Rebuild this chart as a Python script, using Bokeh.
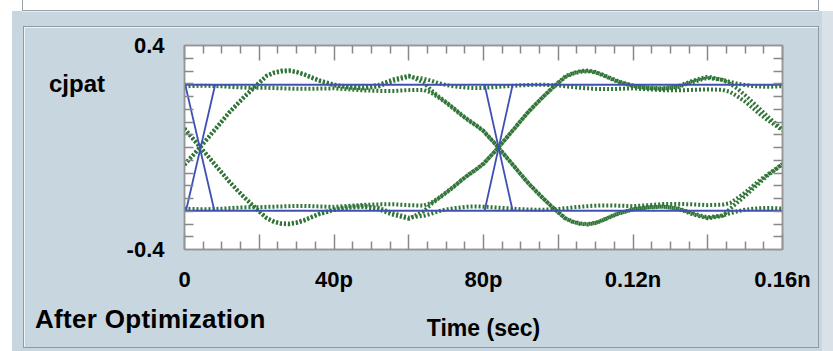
from bokeh.plotting import figure
from bokeh.models import (Range1d, LinearAxis, FixedTicker, Div, CustomLabelingPolicy)
from bokeh.embed import file_html
from bokeh.resources import INLINE

# ---------------- data (time in ps, value in V) ----------------
time_ps = [0, 2, 4, 6, 8, 10, 12, 14, 16, 18, 20, 22, 24, 26, 28, 30, 32, 34, 36,
           40, 44, 48, 52, 56, 60, 64,
           66, 68, 70, 72, 74, 76, 78, 80, 82, 84, 86, 88, 90, 92, 94, 96, 98, 100,
           102, 104, 106, 108, 110, 112, 114, 116,
           120, 124, 128, 132, 136, 140, 144,
           146, 148, 150, 152, 154, 156, 158, 160]

trace_rise_hold = [-0.068, -0.036, -0.003, 0.031, 0.066, 0.101, 0.137, 0.167, 0.197, 0.225, 0.252, 0.280, 0.292, 0.298, 0.300, 0.295, 0.286, 0.273, 0.261,
                   0.244, 0.235, 0.232, 0.240, 0.261, 0.278, 0.270,
                   0.262, 0.252, 0.245, 0.240, 0.237, 0.234, 0.233, 0.234, 0.236, 0.238, 0.240, 0.242, 0.244, 0.245, 0.246, 0.246, 0.245, 0.243, 0.240, 0.237, 0.234, 0.232, 0.230, 0.229, 0.229, 0.230,
                   0.232, 0.228, 0.225, 0.224, 0.226, 0.228, 0.226,
                   0.218, 0.200, 0.180, 0.155, 0.130, 0.108, 0.088, 0.067]

trace_rise_fall = [-0.066, -0.034, 0.000, 0.034, 0.069, 0.104, 0.139, 0.170, 0.200, 0.228, 0.256, 0.282, 0.295, 0.302, 0.303, 0.297, 0.288, 0.276, 0.264,
                   0.247, 0.238, 0.236, 0.246, 0.268, 0.282, 0.255,
                   0.225, 0.200, 0.178, 0.155, 0.130, 0.108, 0.088, 0.065, 0.033, 0.000, -0.035, -0.070, -0.105, -0.140, -0.170, -0.200, -0.228, -0.255, -0.280, -0.292, -0.300, -0.302, -0.296, -0.285, -0.272, -0.260,
                   -0.243, -0.235, -0.232, -0.240, -0.262, -0.278, -0.268,
                   -0.240, -0.215, -0.190, -0.163, -0.137, -0.110, -0.088, -0.066]

trace_fall_rise = [0.073, 0.038, 0.003, -0.030, -0.066, -0.100, -0.135, -0.166, -0.196, -0.225, -0.252, -0.278, -0.293, -0.300, -0.301, -0.296, -0.287, -0.274, -0.262,
                   -0.245, -0.236, -0.233, -0.243, -0.265, -0.280, -0.250,
                   -0.222, -0.200, -0.178, -0.155, -0.130, -0.106, -0.086, -0.063, -0.032, 0.001, 0.035, 0.070, 0.105, 0.140, 0.170, 0.200, 0.228, 0.255, 0.280, 0.292, 0.300, 0.302, 0.296, 0.285, 0.272, 0.260,
                   0.243, 0.235, 0.232, 0.240, 0.262, 0.278, 0.265,
                   0.250, 0.230, 0.205, 0.178, 0.150, 0.122, 0.096, 0.070]

trace_fall_hold = [0.075, 0.040, 0.005, -0.028, -0.063, -0.098, -0.133, -0.165, -0.195, -0.222, -0.250, -0.276, -0.290, -0.297, -0.298, -0.293, -0.284, -0.272, -0.260,
                   -0.243, -0.233, -0.229, -0.237, -0.258, -0.275, -0.268,
                   -0.260, -0.250, -0.243, -0.238, -0.235, -0.232, -0.231, -0.232, -0.234, -0.236, -0.238, -0.240, -0.242, -0.243, -0.244, -0.244, -0.243, -0.241, -0.238, -0.235, -0.232, -0.230, -0.228, -0.227, -0.227, -0.228,
                   -0.230, -0.226, -0.222, -0.221, -0.223, -0.226, -0.224,
                   -0.218, -0.198, -0.177, -0.152, -0.127, -0.106, -0.086, -0.064]

trace_high_fall = [0.240, 0.241, 0.242, 0.242, 0.241, 0.240, 0.238, 0.236, 0.235, 0.234, 0.234, 0.234, 0.233, 0.232, 0.231, 0.230, 0.230, 0.230, 0.231,
                   0.232, 0.228, 0.224, 0.222, 0.222, 0.225, 0.226,
                   0.215, 0.196, 0.175, 0.152, 0.128, 0.106, 0.086, 0.064, 0.032, -0.001, -0.036, -0.071, -0.106, -0.140, -0.171, -0.200, -0.228, -0.254, -0.278, -0.291, -0.298, -0.300, -0.295, -0.284, -0.271, -0.259,
                   -0.242, -0.234, -0.231, -0.238, -0.258, -0.274, -0.266,
                   -0.258, -0.250, -0.244, -0.240, -0.238, -0.237, -0.238, -0.240]

trace_low_rise = [-0.240, -0.241, -0.242, -0.242, -0.241, -0.240, -0.238, -0.236, -0.235, -0.234, -0.234, -0.233, -0.232, -0.231, -0.230, -0.229, -0.229, -0.230, -0.231,
                  -0.233, -0.229, -0.225, -0.223, -0.223, -0.226, -0.228,
                  -0.217, -0.198, -0.176, -0.153, -0.129, -0.107, -0.087, -0.064, -0.032, 0.000, 0.035, 0.070, 0.105, 0.139, 0.170, 0.199, 0.227, 0.253, 0.277, 0.290, 0.297, 0.299, 0.294, 0.283, 0.270, 0.258,
                  0.241, 0.233, 0.230, 0.237, 0.257, 0.273, 0.265,
                  0.257, 0.250, 0.245, 0.241, 0.239, 0.238, 0.239, 0.241]

# ideal (blue) eye
ideal_level_t = [0, 160]
ideal_high = [0.246, 0.246]
ideal_low = [-0.248, -0.248]
ideal_edges_t = [[0.2, 8.0], [0.4, 8.2], [80.3, 87.8], [80.3, 87.8]]
ideal_edges_v = [[0.246, -0.248], [-0.248, 0.246], [0.246, -0.248], [-0.248, 0.246]]

# axes
x_major_ticks = [0, 20, 40, 60, 80, 100, 120, 140, 160]
x_minor_ticks = [5, 10, 15, 25, 30, 35, 45, 50, 55, 65, 70, 75, 85, 90, 95,
                 105, 110, 115, 125, 130, 135, 145, 150, 155]
x_tick_labels = {0: "0", 40: "40p", 80: "80p", 120: "0.12n", 160: "0.16n"}
y_major_ticks = [-0.4, 0.4]
y_minor_ticks = [-0.35, -0.3, -0.25, -0.2, -0.15, -0.1, -0.05, 0.0,
                 0.05, 0.1, 0.15, 0.2, 0.25, 0.3, 0.35]
y_tick_labels = {-0.4: "-0.4", 0.4: "0.4"}
signal_name = "cjpat"
panel_caption = "After Optimization"
x_title = "Time (sec)"

# ---------------- styling ----------------
PANEL = "#c8d6df"
GREEN = "#317538"
BLUE = "#3f50b4"
FRAME = "#959595"
TICK = "#888888"
EDGE = "#8f9aa2"
FONT = "Liberation Sans"

p = figure(width=833, height=351, x_range=Range1d(0, 160), y_range=Range1d(-0.4, 0.4),
           x_axis_type=None, y_axis_type=None,
           output_backend="svg", toolbar_location=None,
           min_border_left=184, min_border_right=49, min_border_top=45, min_border_bottom=102,
           background_fill_color="white", border_fill_color=PANEL)
p.outline_line_color = FRAME
p.outline_line_width = 1.5

xt = FixedTicker(ticks=x_major_ticks, minor_ticks=x_minor_ticks)
yt = FixedTicker(ticks=y_major_ticks, minor_ticks=y_minor_ticks)

no_labels = CustomLabelingPolicy(code="for (const i of indices) { indices.unset(i) }\nreturn indices")
every_other = CustomLabelingPolicy(code="for (const i of indices) { if (i % 2 == 1) indices.unset(i) }\nreturn indices")


def base_axis(ax):
    ax.axis_line_color = FRAME
    ax.axis_line_width = 1.5
    ax.major_tick_line_color = TICK
    ax.minor_tick_line_color = TICK
    ax.major_tick_line_width = 1.5
    ax.minor_tick_line_width = 1.5
    ax.major_tick_out = 0
    ax.minor_tick_out = 0
    ax.major_label_text_font = FONT
    ax.major_label_text_font_style = "bold"
    ax.major_label_text_font_size = "22px"
    ax.major_label_text_color = "black"


bottom = LinearAxis(ticker=xt, major_label_overrides=x_tick_labels, major_label_policy=every_other)
base_axis(bottom)
bottom.major_tick_in = 15
bottom.minor_tick_in = 8
bottom.major_label_standoff = 17
bottom.axis_label = x_title
bottom.axis_label_text_font = FONT
bottom.axis_label_text_font_style = "bold"
bottom.axis_label_text_font_size = "23px"
bottom.axis_label_text_color = "black"
bottom.axis_label_standoff = 20
p.add_layout(bottom, "below")

top = LinearAxis(ticker=xt, major_label_policy=no_labels)
base_axis(top)
top.major_tick_in = 15
top.minor_tick_in = 8
p.add_layout(top, "above")

left = LinearAxis(ticker=yt, major_label_overrides=y_tick_labels)
base_axis(left)
left.major_tick_in = 0
left.minor_tick_in = 9
left.major_label_standoff = 20
p.add_layout(left, "left")

right = LinearAxis(ticker=yt, major_label_policy=no_labels)
base_axis(right)
right.major_tick_in = 0
right.minor_tick_in = 9
p.add_layout(right, "right")

# ---------------- data glyphs ----------------
for tr in [trace_rise_hold, trace_rise_fall, trace_fall_rise, trace_fall_hold,
           trace_high_fall, trace_low_rise]:
    p.line(time_ps, tr, line_color=GREEN, line_width=4, line_dash="2 2")

p.line(ideal_level_t, ideal_high, line_color=BLUE, line_width=1.8)
p.line(ideal_level_t, ideal_low, line_color=BLUE, line_width=1.8)
p.multi_line(ideal_edges_t, ideal_edges_v, line_color=BLUE, line_width=1.8)

# ---------------- panel frame + outside texts (HTML overlay) ----------------
txt = ("position:absolute;white-space:nowrap;font-family:'Liberation Sans',Arial,sans-serif;"
       "font-weight:bold;color:#000;margin:0;padding:0;")
overlay_html = (
    '<div style="position:absolute;left:0;top:0;width:833px;height:351px;">'
    '<div style="position:absolute;left:0;top:0;width:833px;height:11px;background:#fff;"></div>'
    '<div style="position:absolute;left:0;top:0;width:12px;height:351px;background:#fff;"></div>'
    '<div style="position:absolute;left:822px;top:11px;width:11px;height:340px;background:#d8e2e8;"></div>'
    '<div style="position:absolute;left:22px;top:0;width:797px;height:11px;background:#fff;'
    'border:1px solid #97a2aa;border-top:none;box-shadow:0 1px 0 #e6edf1;"></div>'
    '<div style="position:absolute;left:23px;top:26px;width:796px;height:322px;'
    'border:1px solid ' + EDGE + ';box-shadow:inset 1px 1px 0 #eef3f6;"></div>'
    '<span style="' + txt + 'left:49px;top:72px;font-size:24px;line-height:24px;">' + signal_name + '</span>'
    '<span style="' + txt + 'left:35px;top:306px;font-size:26px;line-height:26px;letter-spacing:0.3px;">'
    + panel_caption + '</span>'
    '</div>'
)
overlay = Div(text=overlay_html, width=833, height=351, margin=0,
              styles={"position": "absolute", "left": "0px", "top": "0px",
                      "pointer-events": "none", "z-index": "10"})

open("out.html", "w").write(file_html([p, overlay], INLINE))
